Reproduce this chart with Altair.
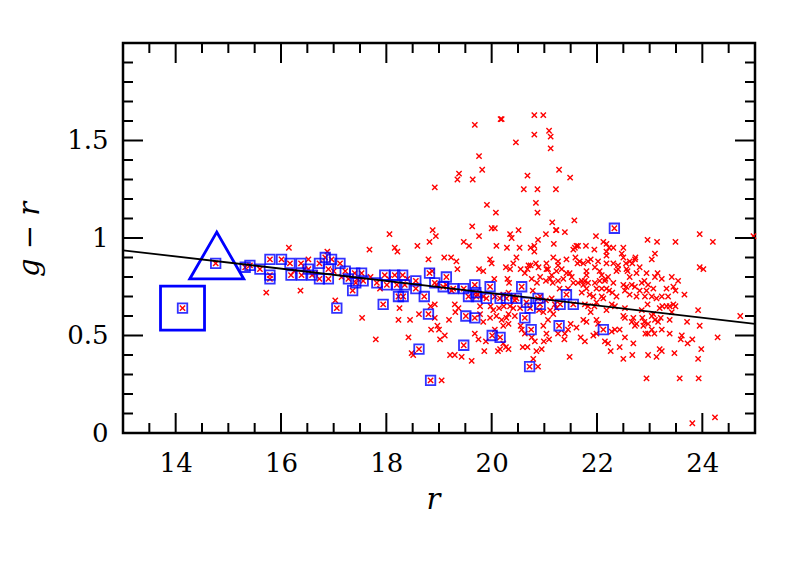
import altair as alt
import pandas as pd

# ---- data (r, g-r) ----
# red crosses that are not in a blue square
red_pts = [
 (15.72,0.72),(16.15,0.95),(16.37,0.73),(16.52,0.89),(16.88,0.93),(17.03,0.68),
 (16.25,0.83),(16.45,0.84),(16.65,0.82),(17.00,0.83),(17.15,0.80),(17.45,0.79),(17.70,0.80),(18.05,0.79),(18.40,0.79),
 (17.68,0.94),(18.06,1.02),(18.16,0.95),(18.21,0.93),(18.59,0.96),(18.82,0.98),(18.88,1.04),(18.94,1.01),
 (18.92,1.26),(19.35,1.30),(19.38,1.33),(19.64,1.30),(19.68,1.58),(19.76,1.42),(19.82,1.35),(19.91,1.17),
 (20.08,1.13),(20.17,1.61),(20.19,1.61),(20.46,1.49),(20.61,1.25),(20.68,1.32),(20.81,1.53),(20.81,1.63),
 (20.98,1.63),(20.84,1.18),(20.87,1.25),(20.87,1.13),(21.09,1.55),(21.12,1.52),(21.12,1.46),(21.28,1.35),
 (21.49,1.31),(21.22,1.25),(21.15,1.08),(21.22,1.04),(21.18,0.97),(21.03,1.02),(19.63,1.06),(20.00,1.05),
 (20.06,1.05),(20.51,1.04),(20.35,1.02),(20.38,1.00),(20.88,0.99),(20.81,0.96),(20.74,0.95),(20.81,0.93),
 (19.47,0.98),(19.57,0.96),(19.76,1.01),(20.09,0.96),(20.29,0.95),(20.53,0.95),(18.80,0.89),(19.10,0.90),
 (19.23,0.90),(19.33,0.88),(19.35,0.84),(19.97,0.89),(20.00,0.87),(19.76,0.84),(19.84,0.83),(20.27,0.85),
 (20.35,0.84),(20.47,0.90),(20.70,0.86),(20.74,0.86),(18.87,0.83),(17.88,0.74),
 (20.05,0.79),(20.30,0.79),(20.33,0.77),(20.41,0.87),(20.55,0.84),(20.63,0.82),(20.68,0.84),(20.84,0.87),
 (21.04,0.84),(21.26,0.88),(20.76,0.79),(20.92,0.80),(21.03,0.78),(21.11,0.79),(21.16,0.77),(20.86,0.77),
 (20.89,0.85),(21.04,0.87),(21.07,0.84),(21.14,0.81),(21.17,0.90),
 (18.95,0.76),(19.14,0.76),(19.24,0.73),(19.73,0.71),(19.84,0.70),(20.06,0.70),(20.22,0.71),(20.32,0.72),
 (20.41,0.70),(20.78,0.73),(20.92,0.70),(21.03,0.68),(21.14,0.69),(21.11,0.63),(20.03,0.63),(20.14,0.64),
 (20.32,0.61),(20.41,0.64),(20.90,0.63),(20.98,0.62),
 (18.62,0.61),(18.92,0.59),(18.45,0.58),(19.31,0.62),(19.19,0.58),(18.85,0.53),(18.97,0.55),(19.00,0.53),
 (19.11,0.50),(19.02,0.48),(18.42,0.49),(18.48,0.41),(18.51,0.40),(19.21,0.40),(19.30,0.40),(19.43,0.39),
 (19.62,0.37),(19.05,0.27),(19.78,0.61),(19.84,0.57),(19.97,0.59),(20.09,0.60),(20.19,0.58),(20.28,0.59),
 (20.32,0.56),(20.22,0.55),(19.68,0.51),(19.75,0.48),(19.89,0.47),(20.06,0.53),(20.22,0.46),(20.27,0.44),
 (20.32,0.43),(20.16,0.43),(20.12,0.42),(19.86,0.42),(20.44,0.60),(20.55,0.55),(20.57,0.53),(20.63,0.51),
 (20.59,0.44),(20.68,0.44),(20.79,0.38),(20.88,0.34),(20.76,0.49),(20.82,0.47),(20.85,0.42),(20.98,0.55),
 (21.04,0.51),(21.09,0.48),(20.99,0.47),(21.07,0.58),(21.17,0.61),(20.54,0.64),(20.44,0.68),(20.35,0.65),
 (20.23,0.65),(19.98,0.65),(19.30,0.66),(19.37,0.64),(19.78,0.65),(18.92,0.66),(18.84,0.65),(21.20,0.66),
 (21.23,0.64),(20.95,0.43),(17.54,0.59),(17.80,0.48),(18.23,0.58),(18.25,0.64),
 (21.57,1.09),(21.23,1.04),(21.39,1.03),(21.98,1.01),(23.95,1.02),(22.96,0.99),(23.14,0.98),(23.49,0.98),
 (22.12,0.98),(22.18,0.97),(21.79,0.96),(21.61,0.96),(21.64,0.96),(21.55,0.94),(21.58,0.95),(21.95,0.94),
 (22.18,0.93),(22.23,0.95),(22.31,0.95),(22.50,0.95),(22.47,0.92),(22.50,0.90),(23.10,0.92),(23.04,0.89),
 (22.73,0.90),(22.18,0.91),(21.42,0.89),(21.59,0.90),(21.67,0.88),(21.63,0.87),(21.74,0.87),(21.83,0.88),
 (21.88,0.89),(22.02,0.88),(22.18,0.87),(22.31,0.87),(22.40,0.86),(22.55,0.87),(22.62,0.88),(22.67,0.87),
 (22.72,0.89),(21.26,0.86),(21.33,0.84),(21.23,0.83),(22.81,0.85),(22.75,0.82),(22.94,0.82),(23.15,0.82),
 (23.10,0.80),(23.23,0.79),(23.42,0.80),(23.54,0.78),(23.95,0.85),(24.02,0.84),(21.48,0.82),(21.42,0.82),
 (21.52,0.80),(21.80,0.83),(21.80,0.81),(21.96,0.85),(22.05,0.83),(22.09,0.81),(22.16,0.79),(22.21,0.80),
 (22.31,0.77),(22.40,0.84),(22.37,0.83),(22.56,0.84),(22.58,0.83),(21.26,0.78),(21.36,0.79),(21.55,0.77),
 (21.64,0.77),(21.71,0.78),(21.77,0.78),(21.83,0.77),(21.74,0.76),(21.80,0.74),(21.96,0.77),(22.05,0.78),
 (22.15,0.78),(22.50,0.76),(22.56,0.75),(22.66,0.76),(22.72,0.75),(22.85,0.77),(22.90,0.78),(22.97,0.76),
 (22.62,0.80),(22.81,0.73),(22.94,0.73),(23.07,0.74),(23.04,0.70),(21.99,0.74),(22.09,0.74),(22.18,0.74),
 (22.23,0.73),(22.29,0.72),(22.37,0.70),(22.53,0.73),(22.62,0.71),(23.32,0.74),(23.45,0.75),(23.49,0.73),
 (23.23,0.70),(23.35,0.70),(23.66,0.71),(21.29,0.74),(21.45,0.74),(21.93,0.70),(21.86,0.71),(22.09,0.70),
 (21.71,0.72),(22.12,0.69),(22.75,0.70),(22.91,0.70),(23.13,0.69),
 (21.77,0.66),(21.83,0.65),(21.95,0.65),(21.99,0.67),(22.28,0.66),(22.34,0.65),(22.18,0.63),(21.88,0.62),
 (22.53,0.64),(22.85,0.63),(22.96,0.66),(23.07,0.61),(23.04,0.60),(23.19,0.64),(23.24,0.65),(23.32,0.65),
 (23.38,0.65),(23.45,0.66),(23.49,0.65),(23.42,0.62),(23.92,0.63),(22.50,0.60),(22.53,0.59),(22.66,0.57),
 (22.69,0.59),(22.75,0.56),(22.72,0.55),(22.86,0.59),(22.90,0.57),(22.97,0.56),(22.88,0.55),(23.10,0.58),
 (23.16,0.57),(23.21,0.59),(23.38,0.58),(23.95,0.55),(21.74,0.58),(21.80,0.57),(21.99,0.58),(22.02,0.56),
 (21.50,0.56),(21.45,0.53),(21.61,0.54),(21.39,0.51),(21.38,0.48),(21.26,0.51),(21.69,0.49),(21.77,0.47),
 (21.93,0.50),(21.99,0.51),(22.15,0.47),(22.21,0.46),(22.28,0.52),(22.34,0.53),(22.43,0.53),(22.53,0.49),
 (22.69,0.46),(22.92,0.51),(22.97,0.51),(23.04,0.53),(23.09,0.51),(23.23,0.53),(23.38,0.51),(23.61,0.50),
 (23.59,0.48),(23.72,0.46),(23.81,0.48),(23.98,0.43),(22.43,0.44),(22.26,0.42),(22.67,0.40),(22.97,0.40),
 (23.13,0.39),(23.19,0.43),(23.23,0.42),(23.47,0.41),(22.50,0.38),(21.48,0.39),(22.94,0.28),(23.57,0.28),
 (23.93,0.28),(24.20,0.98),(24.29,0.49),(23.92,0.38),(23.81,0.05),(24.24,0.08),(24.72,0.60),(24.97,1.01),
 (23.71,0.57),
]

# objects marked with a small blue square (each also has a red cross)
sq_pts = [
 (14.13,0.64),(14.76,0.87),
 (15.32,0.85),(15.41,0.86),(15.60,0.84),(15.79,0.89),(15.79,0.81),(15.79,0.79),(16.01,0.89),(16.17,0.87),
 (16.19,0.81),(16.38,0.87),(16.39,0.81),(16.52,0.84),(16.59,0.81),(16.73,0.87),(16.73,0.79),(16.84,0.90),
 (16.90,0.84),(16.90,0.79),(16.96,0.89),(17.06,0.64),(17.12,0.87),(17.22,0.83),(17.28,0.79),(17.36,0.73),
 (17.40,0.82),(17.42,0.77),(17.53,0.82),(17.56,0.78),(17.82,0.77),(17.94,0.66),(17.97,0.81),(18.01,0.76),
 (18.16,0.81),(18.20,0.76),(18.23,0.70),(18.31,0.81),(18.32,0.70),(18.35,0.76),(18.56,0.78),(18.56,0.74),
 (18.62,0.43),(18.72,0.70),(18.80,0.61),(18.82,0.82),(18.84,0.27),(18.92,0.77),(19.08,0.75),(19.14,0.80),
 (19.27,0.74),(19.47,0.74),(19.47,0.45),(19.51,0.60),(19.56,0.70),(19.68,0.76),(19.68,0.59),(19.70,0.72),
 (19.71,0.70),(19.90,0.69),(19.97,0.75),(20.01,0.50),(20.16,0.69),(20.16,0.49),(20.28,0.69),(20.47,0.69),
 (20.57,0.75),(20.63,0.59),(20.66,0.67),(20.72,0.34),(20.73,0.64),(20.75,0.53),(20.88,0.69),(20.92,0.66),
 (21.28,0.55),(21.30,0.66),(21.42,0.71),(21.55,0.66),(22.12,0.53),(22.33,1.05),
]

big_square = [(14.13, 0.64)]
big_triangle = [(14.78, 0.91)]

fit_r = [13.0, 25.0]
fit_gr = [0.937, 0.560]

x_major = [14, 16, 18, 20, 22, 24]
x_minor = [13.5, 14.5, 15, 15.5, 16.5, 17, 17.5, 18.5, 19, 19.5, 20.5, 21, 21.5, 22.5, 23, 23.5, 24.5]
y_major = [0.5, 1.0, 1.5]
y_minor = [0.1, 0.2, 0.3, 0.4, 0.6, 0.7, 0.8, 0.9, 1.1, 1.2, 1.3, 1.4, 1.6, 1.7, 1.8, 1.9]
x_labels = [14, 16, 18, 20, 22, 24]
y_labels = [0, 0.5, 1, 1.5]

# ---- build tables ----
W, H = 632, 390
FONT = "DejaVu Serif"
red_df = pd.DataFrame(red_pts + sq_pts, columns=["r", "gr"])
sq_df = pd.DataFrame(sq_pts, columns=["r", "gr"])
bsq_df = pd.DataFrame(big_square, columns=["r", "gr"])
btr_df = pd.DataFrame(big_triangle, columns=["r", "gr"])
fit_df = pd.DataFrame({"r": fit_r, "gr": fit_gr})

xs = alt.Scale(domain=[13, 25], nice=False, zero=False)
ys = alt.Scale(domain=[0, 2], nice=False, zero=False)

x_axis = alt.Axis(values=x_labels, ticks=False, domain=False, grid=False,
                  labelFont=FONT, labelFontSize=26, labelColor="black", labelPadding=17,
                  title="r", titleFont=FONT, titleFontStyle="italic", titleFontWeight="normal",
                  titleFontSize=29, titleColor="black", titleX=310, titleY=66,
                  titleBaseline="middle", titleAlign="center")
y_axis = alt.Axis(values=y_labels, ticks=False, domain=False, grid=False,
                  labelFont=FONT, labelFontSize=26, labelColor="black", labelPadding=15,
                  labelExpr="'' + datum.value",
                  title="g − r", titleFont=FONT, titleFontStyle="italic", titleFontWeight="normal",
                  titleFontSize=29, titleColor="black", titleX=-94, titleY=196,
                  titleAngle=-90, titleBaseline="middle", titleAlign="center")

X_PATH = "M-1,-1L1,1M-1,1L1,-1"

def X(field):
    return alt.X(field, scale=xs, axis=x_axis)

def Y(field):
    return alt.Y(field, scale=ys, axis=y_axis)

red = alt.Chart(red_df).mark_point(shape=X_PATH, size=28, filled=False, color="#ff0000",
                                   strokeWidth=1.4, opacity=1).encode(x=X("r:Q"), y=Y("gr:Q"))

sq = alt.Chart(sq_df).mark_point(shape="square", size=90, filled=False, color="#0000ff",
                                 strokeWidth=1.8, opacity=0.8).encode(x=X("r:Q"), y=Y("gr:Q"))

bsq = alt.Chart(bsq_df).mark_point(shape="square", size=1936, filled=False, color="#0000ff",
                                   strokeWidth=2.8, opacity=1).encode(x=X("r:Q"), y=Y("gr:Q"))

btr = alt.Chart(btr_df).mark_point(shape="triangle-up", size=2916, filled=False, color="#0000ff",
                                   strokeWidth=2.8, opacity=1).encode(x=X("r:Q"), y=Y("gr:Q"))

fit = alt.Chart(fit_df).mark_line(color="black", strokeWidth=1.8).encode(x=X("r:Q"), y=Y("gr:Q"))

def xticks(vals, length):
    d = pd.DataFrame({"r": vals})
    b = alt.Chart(d).mark_rule(color="black", strokeWidth=2).encode(
        x=X("r:Q"), y=alt.value(H), y2=alt.value(H - length))
    t = alt.Chart(d).mark_rule(color="black", strokeWidth=2).encode(
        x=X("r:Q"), y=alt.value(0), y2=alt.value(length))
    return [b, t]

def yticks(vals, length):
    d = pd.DataFrame({"gr": vals})
    l = alt.Chart(d).mark_rule(color="black", strokeWidth=2).encode(
        y=Y("gr:Q"), x=alt.value(0), x2=alt.value(length))
    r = alt.Chart(d).mark_rule(color="black", strokeWidth=2).encode(
        y=Y("gr:Q"), x=alt.value(W), x2=alt.value(W - length))
    return [l, r]

layers = [red, sq, bsq, btr, fit] + xticks(x_major, 20) + xticks(x_minor, 10) \
    + yticks(y_major, 20) + yticks(y_minor, 10)

chart = alt.layer(*layers).properties(
    width=W, height=H,
    autosize=alt.AutoSizeParams(type="none"),
    padding={"left": 115, "top": 35, "right": 34, "bottom": 140},
).configure(background="white").configure_view(stroke="black", strokeWidth=2.5, strokeOpacity=1)

chart.save("out.html", embed_options={"renderer": "svg", "actions": False})
